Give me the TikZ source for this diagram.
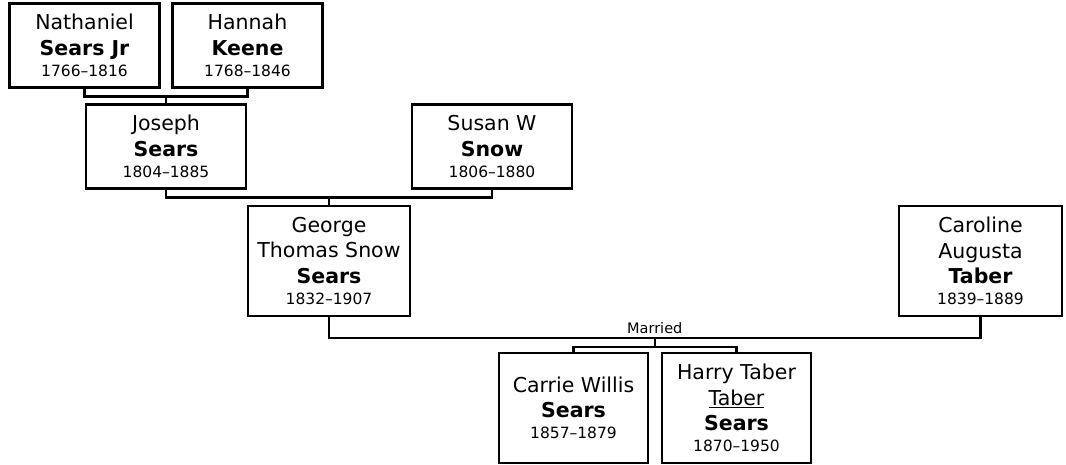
\documentclass[tikz,border=0pt]{standalone}
\usepackage{fontspec}
\setmainfont{DejaVu Sans}
\usetikzlibrary{calc}
\newcommand{\nm}{\fontsize{20.5}{25.5}\selectfont}
\newcommand{\dt}{\fontsize{15.5}{20}\selectfont}
\tikzset{
  person/.style={draw, line width=2.4pt, inner sep=0pt, align=center, font=\nm},
  link/.style={line width=2.4pt},
  lbl/.style={font=\fontsize{14.5}{17}\selectfont, inner sep=0pt}
}
\begin{document}
\begin{tikzpicture}[x=1pt,y=-1pt]
\useasboundingbox (0,0) rectangle (1066,465);
\node[person, minimum width=150pt, minimum height=84pt] (nat) at (84.5,45.5)
  {Nathaniel\\\textbf{Sears Jr}\\[-4.5pt]{\dt 1766–1816}};
\node[person, minimum width=150pt, minimum height=84pt] (han) at (247.5,45.5)
  {Hannah\\\textbf{Keene}\\[-4.5pt]{\dt 1768–1846}};
\node[person, minimum width=160pt, minimum height=84pt] (jos) at (166,146.5)
  {Joseph\\\textbf{Sears}\\[-4.5pt]{\dt 1804–1885}};
\node[person, minimum width=160pt, minimum height=84pt] (sus) at (492,146.5)
  {Susan W\\\textbf{Snow}\\[-4.5pt]{\dt 1806–1880}};
\node[person, minimum width=162pt, minimum height=110pt] (geo) at (329,261)
  {George\\Thomas Snow\\\textbf{Sears}\\[-4.5pt]{\dt 1832–1907}};
\node[person, minimum width=163pt, minimum height=110pt] (car) at (980.5,261)
  {Caroline\\Augusta\\\textbf{Taber}\\[-4.5pt]{\dt 1839–1889}};
\node[person, minimum width=149pt, minimum height=110pt] (cw) at (573.5,408)
  {Carrie Willis\\\textbf{Sears}\\[-4.5pt]{\dt 1857–1879}};
\node[person, minimum width=149pt, minimum height=110pt] (ht) at (736.5,408)
  {Harry Taber\\\underline{Taber}\\\textbf{Sears}\\[-4.5pt]{\dt 1870–1950}};
% parents of Joseph
\coordinate (p1) at ($(nat.south)!0.5!(han.south)+(0,8)$);
\draw[link] (nat.south) -- ++(0,8) -| (han.south);
\draw[link] (p1) -- (p1 |- jos.north);
% parents of George
\coordinate (p2) at ($(jos.south)!0.5!(sus.south)+(0,8)$);
\draw[link] (jos.south) -- ++(0,8) -| (sus.south);
\draw[link] (p2) -- (p2 |- geo.north);
% marriage
\coordinate (p3) at ($(geo.south)!0.5!(car.south)+(0,21)$);
\draw[link] (geo.south) -- ++(0,21) -| (car.south);
\node[lbl, anchor=base] (mar) at ($(p3)+(0,-5)$) {Married};
\coordinate (p4) at ($(p3)+(0,9)$);
\draw[link] (p3) -- (p4);
\draw[link] (cw.north) -- (cw.north |- p4) -- (ht.north |- p4) -- (ht.north);
\end{tikzpicture}
\end{document}
